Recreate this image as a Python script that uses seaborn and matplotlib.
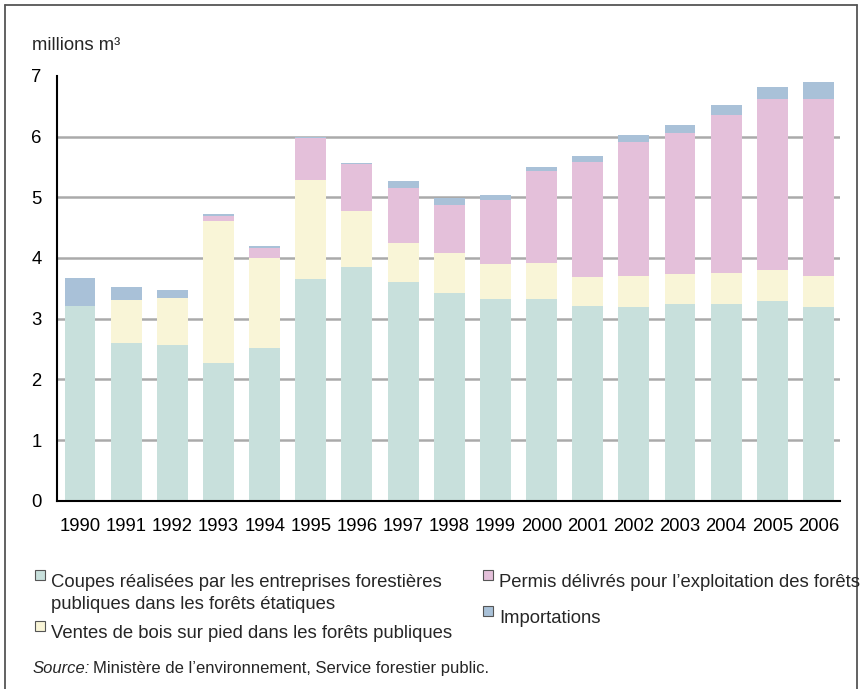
import numpy as np
import pandas as pd
import matplotlib
matplotlib.use("Agg")
import matplotlib.pyplot as plt
import seaborn as sns
from matplotlib.patches import Rectangle
from matplotlib.lines import Line2D

years = [str(y) for y in range(1990, 2007)]
coupes = [3.21, 2.60, 2.57, 2.27, 2.52, 3.66, 3.85, 3.61, 3.43, 3.33, 3.33, 3.21, 3.20, 3.25, 3.25, 3.29, 3.20]
ventes = [0.00, 0.71, 0.77, 2.34, 1.48, 1.63, 0.93, 0.64, 0.66, 0.57, 0.59, 0.48, 0.51, 0.49, 0.51, 0.52, 0.51]
permis = [0.00, 0.00, 0.00, 0.08, 0.17, 0.69, 0.76, 0.91, 0.79, 1.06, 1.52, 1.89, 2.20, 2.32, 2.60, 2.80, 2.90]
importations = [0.46, 0.22, 0.14, 0.04, 0.03, 0.02, 0.03, 0.11, 0.10, 0.08, 0.06, 0.10, 0.12, 0.13, 0.16, 0.21, 0.29]

series_labels = [
    "Coupes réalisées par les entreprises forestières\npubliques dans les forêts étatiques",
    "Ventes de bois sur pied dans les forêts publiques",
    "Permis délivrés pour l\u2019exploitation des forêts",
    "Importations",
]
colors = ["#c8e0dc", "#f9f5d7", "#e4c0da", "#a9c1d8"]

sns.set_theme(style="white")
plt.rcParams["font.family"] = ["Liberation Sans", "DejaVu Sans"]
FS = 13.3

df = pd.DataFrame({"year": years, "c": coupes, "v": ventes, "p": permis, "i": importations})
cum = df[["c", "v", "p", "i"]].cumsum(axis=1)

fig = plt.figure(figsize=(8.63, 6.89), dpi=100)
ax = fig.add_axes([0.066, 0.273, 0.907, 0.617])

# stacked bars: draw cumulative totals from top layer down
for col, color in zip(["i", "p", "v", "c"], colors[::-1]):
    sns.barplot(x=df["year"], y=cum[col], color=color, width=0.67,
                saturation=1, errorbar=None, ax=ax, zorder=3, linewidth=0)

ax.set_ylim(0, 7)
ax.set_xlim(-0.5, 16.46)
ax.set_yticks(range(0, 8))
ax.set_xlabel("")
ax.set_ylabel("")
for y in range(1, 7):
    ax.axhline(y, color="#aaaaaa", lw=1.8, zorder=1)
for s in ["top", "right"]:
    ax.spines[s].set_visible(False)
for s in ["left", "bottom"]:
    ax.spines[s].set_color("black")
    ax.spines[s].set_linewidth(1.5)
    ax.spines[s].set_zorder(5)
ax.tick_params(axis="both", length=0, labelsize=FS, colors="black")
ax.tick_params(axis="x", pad=12)
ax.tick_params(axis="y", pad=11)

fig.text(32 / 863, 1 - 45 / 689, "millions m\u00b3", fontsize=FS, va="center", ha="left")

# legend
def legend_item(x, y, color, text):
    fig.patches.append(Rectangle((x / 863, 1 - (y + 5) / 689), 10 / 863, 10 / 689,
                                 transform=fig.transFigure, facecolor=color,
                                 edgecolor="#555555", lw=0.8))
    fig.text((x + 16) / 863, 1 - (y - 1) / 689, text, fontsize=FS, va="top",
             ha="left", linespacing=1.4)

legend_item(35, 575, colors[0], series_labels[0])
legend_item(35, 626, colors[1], series_labels[1])
legend_item(483, 575, colors[2], series_labels[2])
legend_item(483, 611, colors[3], series_labels[3])

src = fig.text(33 / 863, 1 - 676 / 689, "Source:", fontsize=12, style="italic",
               va="bottom", ha="left")
ax.annotate("Ministère de l\u2019environnement, Service forestier public.",
            xy=(1, 0), xycoords=src, xytext=(2, 0), textcoords="offset points",
            va="bottom", ha="left", fontsize=12, annotation_clip=False)

# frame around the figure
for xs, ys in [([5, 5], [689, 5]), ([5, 857], [5, 5]), ([857, 857], [5, 689])]:
    fig.add_artist(Line2D([x / 863 for x in xs], [1 - y / 689 for y in ys],
                          transform=fig.transFigure, color="#555555", lw=1.3))

fig.savefig("out.png", dpi=100)
